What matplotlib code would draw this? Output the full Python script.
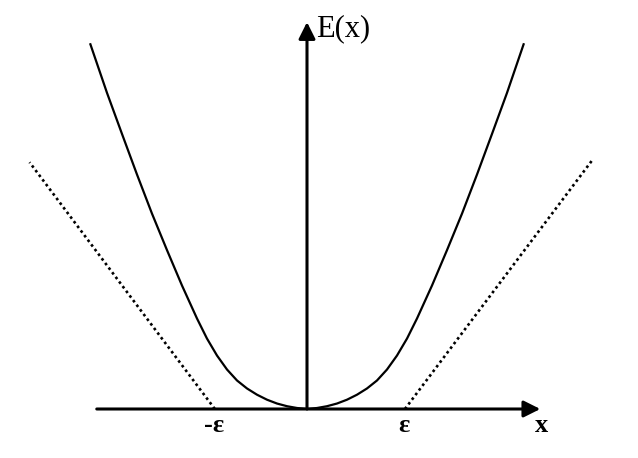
import matplotlib
matplotlib.use("Agg")
import matplotlib.pyplot as plt

# Smooth loss curve (right half, mirrored for left), units where epsilon ~ 1
curve_x = [0, 0.104, 0.208, 0.3125, 0.417, 0.521, 0.625, 0.729, 0.833, 0.9375,
           1.042, 1.146, 1.302, 1.458, 1.615, 1.771, 1.927, 2.083, 2.26]
curve_y = [0, 0.0104, 0.029, 0.057, 0.097, 0.149, 0.214, 0.297, 0.411, 0.557,
           0.734, 0.943, 1.286, 1.654, 2.036, 2.443, 2.865, 3.292, 3.81]

# epsilon-insensitive loss (dotted)
dot_left_x = [-0.96, -2.89]
dot_left_y = [0.0, 2.57]
dot_right_x = [1.02, 2.97]
dot_right_y = [0.0, 2.59]

labels_axis = ["E(x)", "x"]
labels_eps = ["-\u03b5", "\u03b5"]
eps_pos = [-0.97, 1.01]

fig = plt.figure(figsize=(6.38, 4.58), dpi=100)
ax = fig.add_axes([0, 0, 1, 1])
ax.set_xlim(-307 / 96, (638 - 307) / 96)
ax.set_ylim(-(458 - 409) / 96, 409 / 96)
ax.axis("off")

# solid curve
xs = [-v for v in curve_x[::-1]] + curve_x[1:]
ys = curve_y[::-1] + curve_y[1:]
ax.plot(xs, ys, color="black", lw=1.6, solid_capstyle="butt",
        solid_joinstyle="round")

# dotted lines
dstyle = dict(color="black", lw=1.9, linestyle=(0, (1, 1.2)),
              dash_capstyle="butt")
ax.plot(dot_left_x, dot_left_y, **dstyle)
ax.plot(dot_right_x, dot_right_y, **dstyle)

# axes with arrows
ax.annotate("", xy=(2.43, 0), xytext=(-2.19, 0),
            arrowprops=dict(arrowstyle="-|>", lw=2.2, color="black",
                            mutation_scale=25, shrinkA=0, shrinkB=0))
ax.annotate("", xy=(0, 4.03), xytext=(0, 0),
            arrowprops=dict(arrowstyle="-|>", lw=2.2, color="black",
                            mutation_scale=25, shrinkA=0, shrinkB=0))

serif = ["Liberation Serif", "DejaVu Serif"]
ax.text(0.09, 3.885, labels_axis[0], fontsize=22, family=serif,
        ha="left", va="baseline")
ax.text(2.37, -0.24, labels_axis[1], fontsize=19, family=serif,
        fontweight="bold", ha="left", va="baseline")
for lab, xp in zip(labels_eps, eps_pos):
    ax.text(xp, -0.24, lab, fontsize=19, family=serif,
            fontweight="bold", ha="center", va="baseline")

fig.savefig("out.png", dpi=100)
